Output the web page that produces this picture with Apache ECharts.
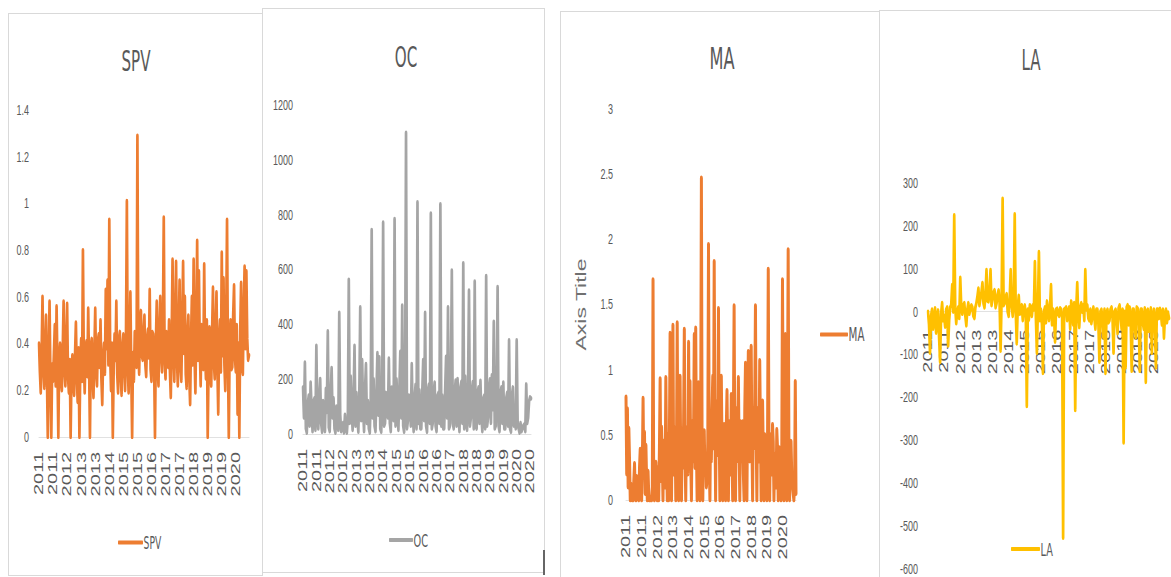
<html>
<head>
<meta charset="utf-8">
<title>SPV OC MA LA</title>
<script src="https://cdn.jsdelivr.net/npm/echarts@6/dist/echarts.min.js"></script>
<style>
    html, body { margin: 0; padding: 0; background: #fff; overflow: hidden; }
    .frame { position: absolute; border: 1px solid #d9d9d9; box-sizing: border-box; }
    #chart { position: absolute; left: 0; top: 0; height: 577px; transform-origin: 0 0; }
</style>
</head>
<body>
<div class="frame" style="left:8px;top:13px;width:255px;height:563px;"></div>
<div class="frame" style="left:262px;top:8px;width:283px;height:565px;background:#fff;"></div>
<div style="position:absolute;left:543px;top:550px;width:2px;height:25px;background:#666;"></div>
<div class="frame" style="left:560px;top:11px;width:320px;height:580px;"></div>
<div class="frame" style="left:879px;top:10px;width:300px;height:580px;"></div>
<div id="chart"></div>
<script type="text/javascript">
    // the reference is a screenshot squashed sideways, so the chart is drawn wide and squeezed
    var SQUASH = 0.6;
    function px(x) { return x / SQUASH; }

    // two readings a month, 2011 to 2020
    var years = [2011, 2012, 2013, 2014, 2015, 2016, 2017, 2018, 2019, 2020];
    var days = ['01', '16'];
    var dates = [];
    for (var i = 0; i < years.length; i++) {
        for (var m = 1; m <= 12; m++) {
            for (var d = 0; d < days.length; d++) {
                dates.push(years[i] + '-' + (m < 10 ? '0' + m : m) + '-' + days[d]);
            }
        }
    }

    var spvData = [
        0.40, 0.28, 0.19, 0.36, 0.60, 0.30, 0.21, 0.38, 0.52, 0.27, 0.00, 0.33, 0.58, 0.25, 0.00, 0.31, 0.24, 0.36, 0.48, 0.22,
        0.56, 0.30, 0.00, 0.34, 0.40, 0.24, 0.20, 0.37, 0.58, 0.29, 0.22, 0.40, 0.57, 0.26, 0.19, 0.33, 0.00, 0.28, 0.35, 0.23,
        0.18, 0.35, 0.49, 0.27, 0.15, 0.38, 0.00, 0.30, 0.42, 0.24, 0.80, 0.33, 0.19, 0.37, 0.41, 0.26, 0.55, 0.31, 0.00, 0.39,
        0.42, 0.26, 0.17, 0.36, 0.55, 0.28, 0.22, 0.41, 0.44, 0.30, 0.50, 0.25, 0.14, 0.34, 0.40, 0.27, 0.63, 0.38, 0.67, 0.31,
        0.93, 0.35, 0.20, 0.40, 0.00, 0.29, 0.44, 0.33, 0.58, 0.27, 0.19, 0.42, 0.45, 0.26, 0.18, 0.39, 0.44, 0.30, 0.20, 0.43,
        1.01, 0.30, 0.19, 0.41, 0.62, 0.28, 0.00, 0.36, 0.24, 0.45, 0.40, 0.30, 1.29, 0.38, 0.27, 0.47, 0.54, 0.35, 0.33, 0.44,
        0.52, 0.31, 0.26, 0.42, 0.46, 0.34, 0.63, 0.29, 0.24, 0.45, 0.44, 0.32, 0.00, 0.40, 0.58, 0.30, 0.22, 0.46, 0.60, 0.35,
        0.28, 0.48, 0.94, 0.33, 0.25, 0.45, 0.42, 0.30, 0.50, 0.28, 0.17, 0.43, 0.76, 0.36, 0.24, 0.50, 0.75, 0.33, 0.22, 0.46,
        0.67, 0.30, 0.24, 0.49, 0.75, 0.36, 0.60, 0.27, 0.21, 0.44, 0.52, 0.26, 0.14, 0.41, 0.60, 0.31, 0.76, 0.35, 0.19, 0.47,
        0.84, 0.33, 0.71, 0.38, 0.22, 0.48, 0.45, 0.29, 0.74, 0.36, 0.25, 0.50, 0.00, 0.30, 0.47, 0.27, 0.22, 0.45, 0.64, 0.32,
        0.25, 0.46, 0.62, 0.30, 0.10, 0.42, 0.50, 0.28, 0.79, 0.35, 0.68, 0.31, 0.20, 0.47, 0.93, 0.36, 0.00, 0.40, 0.50, 0.29,
        0.30, 0.52, 0.65, 0.34, 0.28, 0.48, 0.10, 0.40, 0.00, 0.45, 0.66, 0.30, 0.27, 0.55, 0.73, 0.38, 0.71, 0.42, 0.33, 0.35
    ];
    var ocData = [
        170, 60, 261, 20, 5, 110, 140, 30, 188, 90, 10, 120, 130, 15, 322, 80, 20, 130, 201, 40,
        8, 120, 60, 10, 165, 80, 375, 25, 10, 140, 241, 60, 130, 20, 5, 100, 60, 15, 442, 70,
        10, 30, 40, 5, 70, 20, 5, 60, 563, 40, 210, 90, 15, 130, 322, 30, 150, 60, 8, 140,
        462, 50, 270, 90, 10, 160, 255, 40, 120, 20, 5, 130, 744, 60, 200, 30, 10, 150, 295, 70,
        280, 20, 8, 140, 771, 30, 40, 150, 120, 60, 275, 40, 10, 170, 160, 50, 784, 30, 200, 110,
        15, 160, 300, 60, 469, 30, 8, 150, 1099, 20, 50, 140, 120, 30, 255, 70, 10, 130, 180, 20,
        845, 40, 160, 20, 20, 150, 270, 50, 442, 30, 8, 160, 180, 40, 804, 20, 40, 150, 188, 30,
        10, 140, 150, 40, 838, 30, 140, 20, 20, 160, 282, 60, 462, 20, 30, 180, 596, 40, 20, 150,
        195, 30, 201, 60, 10, 170, 190, 40, 623, 20, 210, 50, 15, 180, 523, 30, 60, 160, 190, 20,
        556, 30, 20, 150, 170, 40, 194, 60, 10, 130, 140, 20, 576, 30, 60, 170, 200, 40, 214, 90,
        409, 20, 30, 140, 536, 30, 10, 150, 170, 40, 188, 20, 20, 130, 150, 30, 342, 20, 8, 140,
        170, 30, 100, 20, 342, 40, 20, 5, 40, 10, 20, 30, 35, 10, 181, 40, 60, 120, 134, 130
    ];
    var maData = [
        0.79, 0.20, 0.70, 0.10, 0.55, 0.30, 0.00, 0.12, 0.05, 0.00, 0.00, 0.15, 0.28, 0.05, 0.00, 0.18, 0.16, 0.02, 0.00, 0.25,
        0.39, 0.10, 0.00, 0.30, 0.78, 0.20, 0.52, 0.05, 0.42, 0.15, 0.00, 0.22, 0.04, 0.00, 0.00, 0.02, 0.00, 0.10, 1.69, 0.05,
        0.00, 0.20, 0.29, 0.10, 0.00, 0.25, 0.00, 0.40, 0.93, 0.15, 0.56, 0.30, 0.00, 0.45, 0.35, 0.10, 0.94, 0.35, 0.00, 0.50,
        0.00, 0.45, 1.28, 0.30, 0.00, 0.60, 1.34, 0.20, 0.30, 0.55, 0.00, 0.40, 1.36, 0.25, 0.00, 0.60, 0.95, 0.30, 0.00, 0.50,
        0.25, 0.60, 1.31, 0.35, 0.00, 0.55, 0.30, 0.20, 1.21, 0.45, 0.91, 0.30, 0.00, 0.60, 0.30, 0.50, 1.27, 0.25, 1.32, 0.40,
        0.00, 0.55, 0.90, 0.30, 0.00, 0.60, 2.47, 0.35, 0.00, 0.50, 0.53, 0.20, 0.30, 0.10, 0.16, 0.45, 1.96, 0.30, 0.00, 0.65,
        0.30, 0.70, 0.95, 0.40, 1.83, 0.60, 0.00, 0.75, 0.60, 0.35, 1.47, 0.55, 0.00, 0.80, 0.95, 0.40, 0.00, 0.50, 0.58, 0.30,
        0.00, 0.55, 0.84, 0.35, 0.00, 0.60, 0.40, 0.20, 0.81, 0.40, 0.00, 0.65, 1.49, 0.35, 0.00, 0.70, 0.30, 0.50, 0.94, 0.40,
        0.00, 0.60, 0.30, 0.45, 0.60, 0.20, 0.00, 0.70, 1.05, 0.40, 0.00, 0.75, 1.14, 0.50, 0.30, 0.80, 1.18, 0.45, 0.00, 0.70,
        0.40, 0.75, 1.49, 0.50, 0.00, 0.70, 0.56, 0.30, 1.07, 0.55, 0.00, 0.60, 0.76, 0.35, 0.00, 0.50, 0.38, 0.20, 0.00, 0.45,
        1.77, 0.40, 0.00, 0.50, 0.30, 0.20, 0.58, 0.45, 0.00, 0.35, 0.35, 0.10, 0.54, 0.40, 0.00, 0.30, 0.40, 0.15, 0.00, 0.35,
        1.69, 0.60, 0.00, 1.25, 1.27, 0.50, 0.00, 0.70, 1.92, 0.45, 0.00, 0.40, 0.45, 0.20, 0.11, 0.05, 0.00, 0.10, 0.91, 0.05
    ];
    var laData = [
        0, -30, -96, -10, 5, -40, -20, 8, -49, -15, 3, -60, -117, -5, 20, -20, -10, -35, 5, 10,
        -79, -20, 10, 15, 62, 0, 225, 10, -27, 5, 10, -15, 79, 10, -5, 15, 20, -10, -32, 5,
        20, -5, 5, 15, 10, -10, -15, 10, 20, 35, 54, 15, 30, 45, 67, 20, 10, 40, 97, 25,
        24, 50, 97, 15, 30, 45, 50, 10, 20, 40, 50, 20, -91, 30, 263, 15, 20, 35, 41, 0,
        -10, 30, 97, 15, -10, 20, 227, 0, -74, 10, 37, -5, 10, 15, -20, 5, 15, -10, -220, 5,
        -19, 15, 10, -10, 15, 5, 116, -15, -96, 10, 139, -20, 5, -30, -143, 0, 10, -25, 24, 5,
        -20, 10, 62, -30, 5, -10, -70, 5, 7, -5, -10, 8, 5, -15, -527, 5, 7, 10, -20, -5,
        10, -40, 24, 10, -30, 20, -229, 5, 67, -10, -36, 10, 20, 0, 15, -20, 97, 5, 15, -15,
        -20, 5, -27, -10, 10, -15, -40, 5, 5, -30, -117, 0, 5, -20, -60, 5, -143, -5, 5, -25,
        -20, 5, 10, -15, -96, 0, 5, -20, -50, 8, 15, -10, -40, 5, -305, 0, -130, 10, 15, -30,
        10, -20, -138, 5, 5, -35, -60, 10, 7, -15, -138, 5, 5, -25, -40, 8, -164, 0, 5, -45,
        -20, 8, -96, -10, 5, -20, -130, 5, 5, -15, 7, -5, -30, 5, -61, -10, 5, -25, -2, -15
    ];

    var names = ['SPV', 'OC', 'MA', 'LA'];
    var seriesData = [spvData, ocData, maData, laData];
    var colors = ['#ED7D31', '#A5A5A5', '#ED7D31', '#FFC000'];
    var lineWidths = [4.5, 4.5, 5, 4.5];
    var yMin = [0, 0, 0, -600];
    var yMax = [1.4, 1200, 3, 300];
    var yStep = [0.2, 200, 0.5, 100];
    var labelEvery = [15, 13, 21, 15];

    // plot boxes in screen pixels: left, right, top, bottom
    var boxes = [
        [39, 249, 110, 437],
        [303, 531, 105, 434],
        [626, 796, 109, 500],
        [928, 1169, 183, 569]
    ];
    var titlePos = [[133, 42], [403, 38], [719, 39], [1028, 41]];
    var legendPos = [[115, 529, 25, 17], [386, 526, 24, 18], [817, 320, 28, 19], [1008, 535, 29, 18]];
    var labelMargin = [15, 15, 15, 18];

    var narrow = "'Liberation Sans Narrow', 'DejaVu Sans Condensed', 'Liberation Sans', sans-serif";
    var plain = "'Liberation Sans', Arial, sans-serif";

    var dom = document.getElementById('chart');
    dom.style.width = Math.round(px(1171)) + 'px';
    dom.style.transform = 'scaleX(' + SQUASH + ')';
    var myChart = echarts.init(dom, null, { renderer: 'svg' });

    var grid = [], xAxis = [], yAxis = [], title = [], legend = [], series = [];
    for (var k = 0; k < 4; k++) {
        var b = boxes[k];
        var h = b[3] - b[2];
        grid.push({
            left: px(b[0]),
            width: px(b[1] - b[0]),
            top: b[2],
            height: h,
            outerBoundsMode: 'none'
        });
        xAxis.push({
            type: 'category',
            gridIndex: k,
            data: dates,
            boundaryGap: false,
            // axis sits on the value 0 line (only matters for LA)
            offset: -h * (0 - yMin[k]) / (yMax[k] - yMin[k]),
            axisTick: { show: false },
            axisLine: { onZero: false, lineStyle: { color: '#d9d9d9', width: 1 } },
            axisLabel: {
                interval: labelEvery[k],
                rotate: 90,
                margin: labelMargin[k],
                color: '#595959',
                fontSize: 20,
                fontFamily: plain,
                formatter: function (v) { return v.slice(0, 4); }
            }
        });
        yAxis.push({
            type: 'value',
            gridIndex: k,
            min: yMin[k],
            max: yMax[k],
            interval: yStep[k],
            splitLine: { show: false },
            axisLine: { show: false },
            axisTick: { show: false },
            axisLabel: {
                margin: px(k == 2 ? 13 : 10),
                color: '#595959',
                fontSize: 15,
                fontFamily: plain,
                formatter: function (v) { return String(v); }
            }
        });
        title.push({
            text: names[k],
            left: px(titlePos[k][0]),
            top: titlePos[k][1],
            textAlign: 'center',
            textStyle: {
                color: '#595959',
                fontWeight: 'normal',
                fontSize: k == 2 ? 30 : 28,
                fontFamily: narrow
            }
        });
        var lp = legendPos[k];
        legend.push({
            data: [names[k]],
            left: px(lp[0]),
            top: lp[1],
            icon: 'roundRect',
            itemWidth: px(lp[2]),
            itemHeight: 4,
            textStyle: { color: '#595959', fontSize: lp[3], fontFamily: narrow, padding: [0, 0, 0, -4] }
        });
        series.push({
            name: names[k],
            type: 'line',
            xAxisIndex: k,
            yAxisIndex: k,
            data: seriesData[k],
            symbol: 'none',
            color: colors[k],
            lineStyle: { color: colors[k], width: lineWidths[k], join: 'round', cap: 'round' }
        });
    }

    // the MA chart keeps the default axis title
    yAxis[2].name = 'Axis Title';
    yAxis[2].nameLocation = 'middle';
    yAxis[2].nameRotate = 90;
    yAxis[2].nameGap = px(38);
    yAxis[2].nameTextStyle = { color: '#707070', fontSize: 23, fontFamily: plain };

    var option = {
        animation: false,
        title: title,
        legend: legend,
        grid: grid,
        xAxis: xAxis,
        yAxis: yAxis,
        series: series
    };
    if (option && typeof option === "object") {
        myChart.setOption(option, true);
    }
</script>
</body>
</html>
